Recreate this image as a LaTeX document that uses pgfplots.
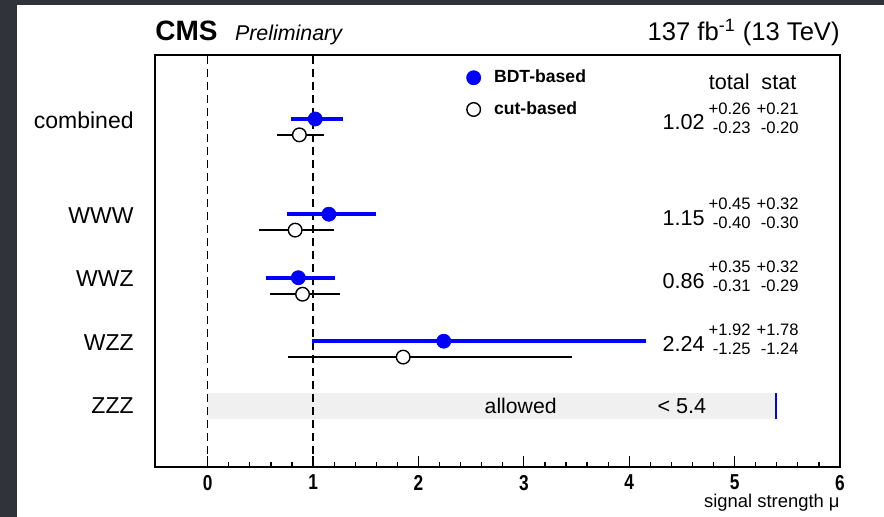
\documentclass[border=0pt]{standalone}
\usepackage{pgfplots}
\pgfplotsset{compat=1.18}
\usepackage{pgfplotstable}
\usepackage{graphicx}
\usepackage{fontspec}
\setmainfont{Liberation Sans}

\definecolor{bgdark}{HTML}{30343A}
\definecolor{bandgray}{HTML}{F0F0F0}
\definecolor{bdtblue}{HTML}{0000FF}

% x = mu, y = row position (ZZZ=1 ... combined=5.5)
\pgfplotstableread{
x     y     ep    em
1.02  5.52  0.26  0.23
1.15  4.02  0.45  0.40
0.86  3.02  0.35  0.31
2.24  2.02  1.92  1.25
}\bdt
\pgfplotstableread{
x     y     ep    em
0.87  5.27  0.23  0.215
0.83  3.77  0.37  0.345
0.90  2.76  0.36  0.305
1.855 1.77  1.605 1.09
}\cut

\newcommand{\res}[6]{%
  \node[anchor=east, inner sep=0pt, font=\fontsize{10.8}{12}\selectfont] at (axis cs:4.72,#1) {#2};
  \node[anchor=west, inner sep=0pt, yshift=1.2pt, font=\fontsize{8.3}{9.5}\selectfont] at (axis cs:4.75,#1)
    {\begin{tabular}{@{}r@{\hspace{3pt}}r@{}}#3&#4\\#5&#6\end{tabular}};
}

\begin{document}
\begin{tikzpicture}
\fill[bgdark] (0,0) rectangle (442pt,258.5pt);
\fill[white] (8.5pt,0) rectangle (442pt,256pt);
\begin{axis}[
  at={(77.5pt,25pt)}, anchor=south west,
  scale only axis, width=342.5pt, height=206pt,
  xmin=-0.5, xmax=6, ymin=0.039, ymax=6.528,
  clip=false,
  axis line style={line width=0.7pt},
  xtick={0,1,...,6}, minor x tick num=4,
  xtick pos=bottom, tick align=inside,
  major tick length=5.5pt, minor tick length=2.7pt,
  every tick/.style={black, line width=0.6pt},
  xticklabel={\scalebox{0.8}[1]{\bfseries\pgfmathprintnumber[assume math mode=true]{\tick}}},
  xticklabel style={font=\fontsize{10.8}{12}\selectfont, inner sep=0pt, yshift=-3.8pt},
  ytick={1,2,3,4,5.5},
  yticklabels={ZZZ,WZZ,WWZ,WWW,combined},
  ytick pos=left, y tick style={draw=none},
  yticklabel style={font=\fontsize{11.5}{13}\selectfont, inner sep=0pt, xshift=-10.5pt},
  legend style={at={(axis cs:2.45,6.30)}, anchor=north west, draw=none, fill=none,
    font=\bfseries\fontsize{8.8}{10}\selectfont, row sep=8pt, inner sep=0pt,
    nodes={inner sep=0pt}},
  legend cell align=left,
  legend image code/.code={\path (-3.5pt,0) (10pt,0); \draw[#1] plot coordinates {(0pt,0pt)};},
]
% ZZZ allowed band
\addplot[fill=bandgray, draw=none, forget plot] coordinates {(0,0.795) (5.38,0.795) (5.38,1.205) (0,1.205) (0,0.795)};
\addplot[bdtblue, line width=1pt, forget plot] coordinates {(5.39,0.80) (5.39,1.20)};
% reference lines
\addplot[black, line width=0.7pt, dash pattern=on 4pt off 2.5pt, forget plot] coordinates {(0,0.039) (0,6.528)};
\addplot[black, line width=0.7pt, dash pattern=on 4pt off 2.5pt, forget plot] coordinates {(1,0.039) (1,6.528)};

\addplot[only marks, mark=*, mark size=3.5pt, color=bdtblue, mark options={fill=bdtblue},
  error bars/.cd, x dir=both, x explicit, error mark=none,
  error bar style={line width=2.2pt, bdtblue}]
  table[x=x, y=y, x error plus=ep, x error minus=em] {\bdt};
\addplot[only marks, mark=*, mark size=3.4pt, color=black, mark options={fill=white, line width=0.7pt},
  error bars/.cd, x dir=both, x explicit, error mark=none,
  error bar style={line width=1pt, black}]
  table[x=x, y=y, x error plus=ep, x error minus=em] {\cut};
\legend{BDT-based, cut-based}

\node[font=\fontsize{10.8}{12}\selectfont] at (axis cs:4.95,6.10) {total};
\node[font=\fontsize{10.8}{12}\selectfont] at (axis cs:5.42,6.10) {stat};
\res{5.47}{1.02}{+0.26}{+0.21}{-0.23}{-0.20}
\res{3.96}{1.15}{+0.45}{+0.32}{-0.40}{-0.30}
\res{2.97}{0.86}{+0.35}{+0.32}{-0.31}{-0.29}
\res{1.98}{2.24}{+1.92}{+1.78}{-1.25}{-1.24}

\node[font=\fontsize{10.6}{12}\selectfont] at (axis cs:2.97,1.0) {allowed};
\node[font=\fontsize{10.8}{12}\selectfont] at (axis cs:4.50,1.0) {< 5.4};

\node[anchor=base west, inner sep=0pt, font=\bfseries\fontsize{14}{16}\selectfont] at (axis cs:-0.5,6.764) {CMS};
\node[anchor=base west, inner sep=0pt, font=\itshape\fontsize{10.7}{12}\selectfont] at (axis cs:0.256,6.764) {Preliminary};
\node[anchor=base east, inner sep=0pt, font=\fontsize{12.8}{14}\selectfont] at (axis cs:6,6.764) {137 fb\textsuperscript{-1} (13 TeV)};
\node[anchor=base east, inner sep=0pt, font=\fontsize{9.2}{11}\selectfont] at (axis cs:6,-0.60) {signal strength μ};
\end{axis}
\end{tikzpicture}
\end{document}
